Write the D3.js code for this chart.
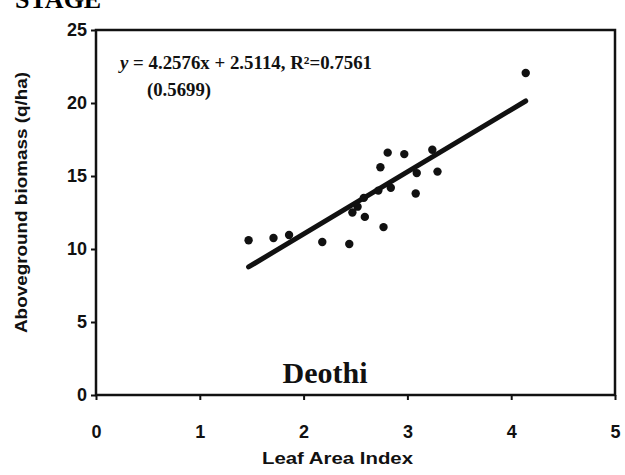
<!DOCTYPE html>
<html>
<head>
<meta charset="utf-8">
<script src="https://cdn.jsdelivr.net/npm/d3@7"></script>
<style>
  body { margin: 0; background: #fff; }
  svg { display: block; }
</style>
</head>
<body>
<div id="demo"></div>
<script>
// Leaf area index vs aboveground biomass, Deothi
let lai = [1.47, 1.71, 1.86, 2.18, 2.44, 2.47, 2.52, 2.59, 2.58, 2.72, 2.74, 2.77, 2.81, 2.84, 2.97, 3.08, 3.09, 3.24, 3.29, 4.14];
let biomass = [10.6, 10.75, 10.96, 10.48, 10.34, 12.5, 12.9, 12.2, 13.5, 14.0, 15.6, 11.5, 16.6, 14.2, 16.5, 13.8, 15.2, 16.8, 15.3, 22.05];
let xTicks = [0, 1, 2, 3, 4, 5];
let yTicks = [0, 5, 10, 15, 20, 25];
let slope = 4.2576;
let intercept = 2.5114;

let w = 625, h = 475;

let svg = d3.select("#demo")
  .append("svg")
  .attr("width", w)
  .attr("height", h);

let x = d3.scaleLinear().domain([0, 5]).range([96, 615]);
let y = d3.scaleLinear().domain([0, 25]).range([395, 30]);

// page heading, cut off at the top as in the scan
svg.append("text")
  .attr("x", 15)
  .attr("y", 8)
  .style("font-family", "Liberation Serif, serif")
  .style("font-weight", "bold")
  .style("font-size", "26px")
  .text("STAGE");

// frame
svg.append("rect")
  .attr("x", x(0))
  .attr("y", y(25))
  .attr("width", x(5) - x(0))
  .attr("height", y(0) - y(25))
  .style("fill", "none")
  .style("stroke", "#111")
  .style("stroke-width", 2.5);

let xAxis = svg.append("g")
  .attr("transform", "translate(0," + y(0) + ")")
  .call(d3.axisBottom(x).tickValues(xTicks).tickSize(5).tickPadding(25).tickFormat(d3.format("d")));

let yAxis = svg.append("g")
  .attr("transform", "translate(" + x(0) + ",0)")
  .call(d3.axisLeft(y).tickValues(yTicks).tickSize(5).tickPadding(4).tickFormat(d3.format("d")));

[xAxis, yAxis].forEach((g) => {
  g.select(".domain").remove();
  g.selectAll(".tick line").style("stroke", "#111").style("stroke-width", 2);
  g.selectAll(".tick text")
    .style("font-family", "Liberation Sans, Arial, sans-serif")
    .style("font-weight", "bold")
    .style("font-size", "18px")
    .style("fill", "#111");
});

// regression line over the observed range
let xr = d3.extent(lai);
svg.append("line")
  .attr("x1", x(xr[0]))
  .attr("y1", y(slope * xr[0] + intercept))
  .attr("x2", x(xr[1]))
  .attr("y2", y(slope * xr[1] + intercept))
  .style("stroke", "#111")
  .style("stroke-width", 5)
  .style("stroke-linecap", "round");

svg.selectAll("circle")
  .data(lai)
  .enter()
  .append("circle")
  .attr("cx", (d) => x(d))
  .attr("cy", (d, i) => y(biomass[i]))
  .attr("r", 4.2)
  .style("fill", "#111");

// equation
let eq = svg.append("text")
  .attr("x", 120)
  .attr("y", 69)
  .attr("textLength", 252)
  .attr("lengthAdjust", "spacingAndGlyphs")
  .style("font-family", "Liberation Serif, serif")
  .style("font-weight", "bold")
  .style("font-size", "18px")
  .style("fill", "#111");
eq.append("tspan").style("font-style", "italic").text("y");
eq.append("tspan").text(" = 4.2576x + 2.5114, R²=0.7561");

svg.append("text")
  .attr("x", 147)
  .attr("y", 96)
  .attr("textLength", 64)
  .attr("lengthAdjust", "spacingAndGlyphs")
  .style("font-family", "Liberation Serif, serif")
  .style("font-weight", "bold")
  .style("font-size", "18px")
  .style("fill", "#111")
  .text("(0.5699)");

svg.append("text")
  .attr("x", 325)
  .attr("y", 383)
  .attr("text-anchor", "middle")
  .style("font-family", "Liberation Serif, serif")
  .style("font-weight", "bold")
  .style("font-size", "30px")
  .style("fill", "#111")
  .text("Deothi");

svg.append("text")
  .attr("x", 262)
  .attr("y", 464)
  .attr("textLength", 151)
  .attr("lengthAdjust", "spacingAndGlyphs")
  .style("font-family", "Liberation Sans, Arial, sans-serif")
  .style("font-weight", "bold")
  .style("font-size", "16px")
  .style("fill", "#111")
  .text("Leaf Area Index");

svg.append("text")
  .attr("transform", "translate(27,333) rotate(-90)")
  .attr("textLength", 261)
  .attr("lengthAdjust", "spacingAndGlyphs")
  .style("font-family", "Liberation Sans, Arial, sans-serif")
  .style("font-weight", "bold")
  .style("font-size", "16px")
  .style("fill", "#111")
  .text("Aboveground biomass (q/ha)");
</script>
</body>
</html>
